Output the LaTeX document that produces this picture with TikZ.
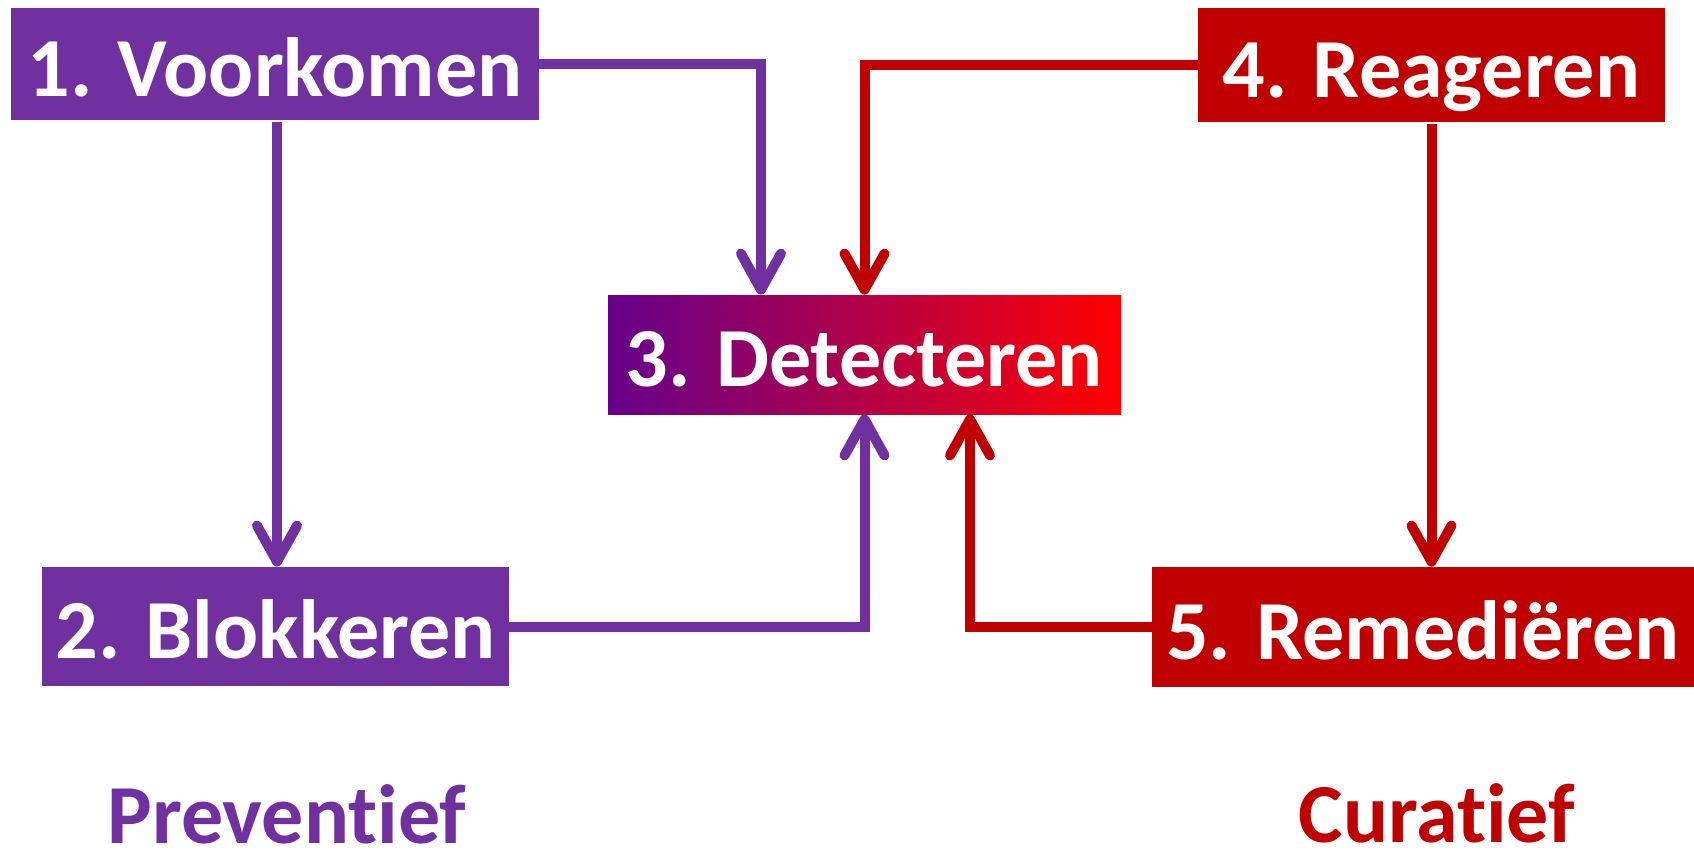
\documentclass[tikz,border=0pt]{standalone}
\usepackage{fontspec}
\setmainfont{Carlito}[Ligatures=NoCommon]
\usetikzlibrary{arrows.meta,calc}
\definecolor{pur}{HTML}{7030A0}
\definecolor{rd}{HTML}{C00000}
\definecolor{vio}{RGB}{102,0,140}
\begin{document}
\begin{tikzpicture}[x=0.5pt,y=-0.5pt,
  box/.style={rectangle, inner sep=0pt, text=white, font=\bfseries\fontsize{42}{50}\selectfont,
    text height=38pt, text depth=6pt},
  pbox/.style={box, fill=pur},
  rbox/.style={box, fill=rd},
  conn/.style={line width=5pt, -{Straight Barb[length=18pt,width=20pt,line cap=round,line join=round]}},
  lab/.style={font=\bfseries\fontsize{42}{50}\selectfont, anchor=base, inner sep=0pt}
]
\useasboundingbox (0,0) rectangle (1694,852);
\node[pbox, minimum width=264pt, minimum height=56pt] (b1) at (275,64) {1. Voorkomen};
\node[pbox, minimum width=233.5pt, minimum height=59.5pt] (b2) at (275.5,626.5) {2. Blokkeren};
\node[box, left color=vio, right color=red, minimum width=256.5pt, minimum height=59.5pt] (b3) at (864.5,354.5) {3. Detecteren};
\node[rbox, minimum width=233.5pt, minimum height=57pt] (b4) at (1431.5,65) {4. Reageren};
\node[rbox, minimum width=271pt, minimum height=60pt] (b5) at (1423,627) {5. Remediëren};
\node[lab, text=pur] (prev) at (287,843) {Preventief};
\node[lab, text=rd] (cur) at (1437,842) {Curatief};
\draw[conn, pur] (b1.east) -| ($(b3.north)+(-103.5,0)$);
\draw[conn, rd] (b4.west) -| (b3.north);
\draw[conn, pur] ([xshift=1pt,yshift=-1pt]b1.south) -- ([xshift=1pt]b1.south |- b2.north);
\draw[conn, rd] ([yshift=-1pt]b4.south) -- (b4.south |- b5.north);
\draw[conn, pur] (b2.east) -| (b3.south);
\draw[conn, rd] (b5.west) -| ($(b3.south)+(105.5,0)$);
\end{tikzpicture}
\end{document}
